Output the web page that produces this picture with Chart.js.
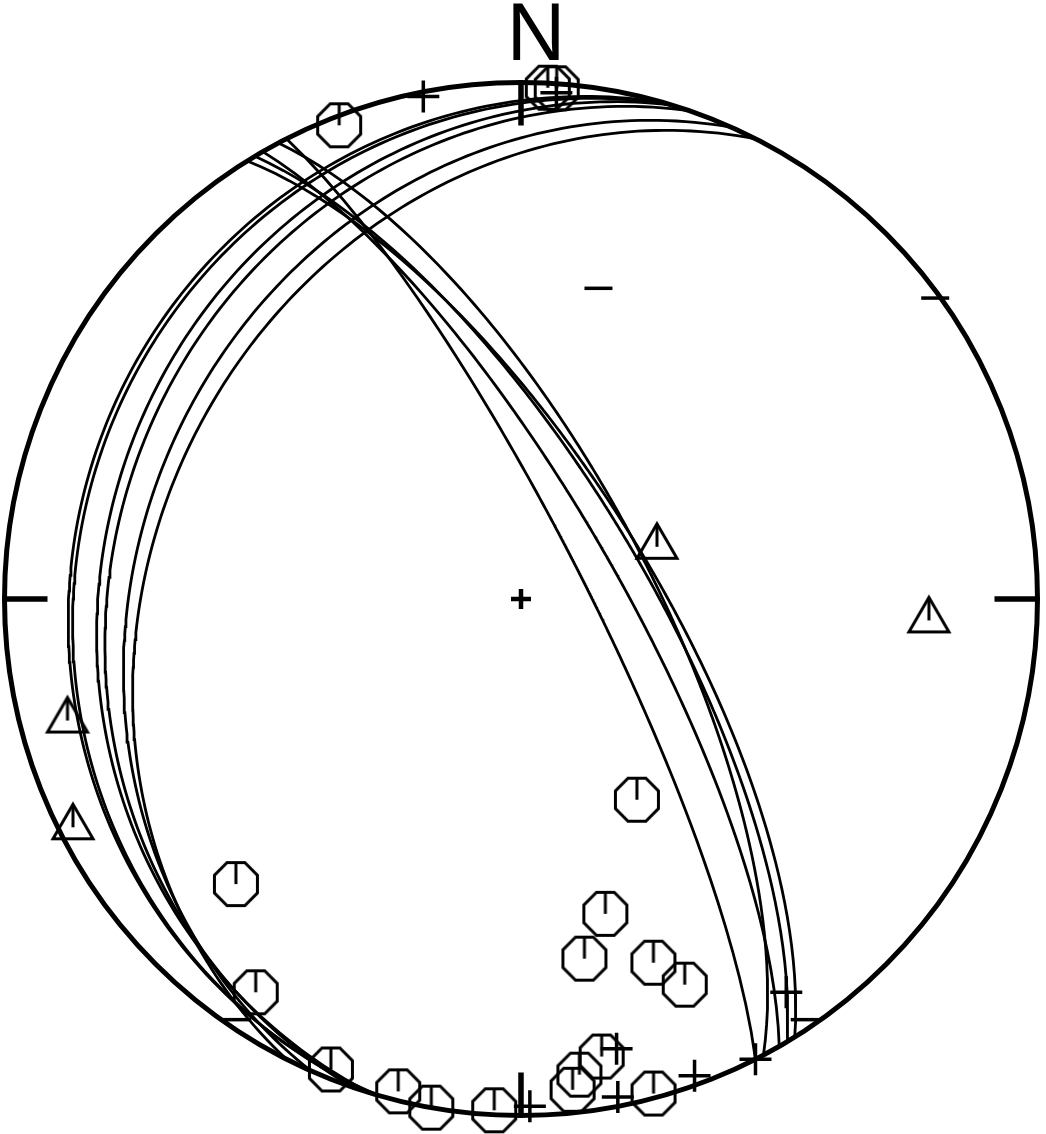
<!DOCTYPE html>
<html>
<head>
<meta charset="utf-8">
<title>Stereonet</title>
<script src="https://cdn.jsdelivr.net/npm/chart.js@4.4.1/dist/chart.umd.min.js"></script>
<style>
    html, body { margin: 0; padding: 0; background: #fff; }
    canvas { display: block; }
</style>
</head>
<body>
<canvas id="net" width="1046" height="1134" style="width:1046px;height:1134px"></canvas>
<script>
/* ============================================================
   Equal-area (Schmidt) net, lower hemisphere
   planes as great circles, lines as symbols
   ============================================================ */

// planes: dip direction / dip (degrees)
const planeDipDir = [63, 62, 60, 59, 58, 297, 294, 289, 287, 287, 286];
const planeDip    = [80, 70, 75, 71, 70, 30, 27, 22, 20, 15, 14];

// octagon symbols: trend / plunge
const octTrend  = [339, 3, 4, 150, 225, 165, 170, 160, 157, 214, 202, 194, 190, 183, 173, 174, 170, 165];
const octPlunge = [2, 1, 1, 53, 23, 37, 30, 26, 20, 9, 2, 2, 0, 1, 8, 5, 11, 1];

// triangle symbols
const triTrend  = [69, 93, 255, 243];
const triPlunge = [67, 22, 10, 3];

// "+" symbols
const plusTrend  = [349, 179, 168, 169, 160, 153, 146, 4];
const plusPlunge = [1, 2, 12, 2, 2, 0, 9, 2];

// "-" symbols
const minusTrend  = [14, 54, 214, 146];
const minusPlunge = [38, 1, 2, 2];

const RAD = Math.PI / 180;

function project(trend, plunge) {
    const r = Math.SQRT2 * Math.sin((90 - plunge) * RAD / 2);
    return { x: r * Math.sin(trend * RAD), y: r * Math.cos(trend * RAD) };
}

function greatCircle(dipDir, dip) {
    const pts = [];
    for (let b = -90; b <= 90; b += 1) {
        const plunge = Math.atan(Math.tan(dip * RAD) * Math.cos(b * RAD)) / RAD;
        pts.push(project(dipDir + b, plunge));
    }
    return pts;
}

function toPoints(trends, plunges) {
    return trends.map((t, i) => project(t, plunges[i]));
}

// symbol sprites
function octagonSprite() {
    const c = document.createElement("canvas");
    c.width = 54; c.height = 54;
    const g = c.getContext("2d");
    const a = 21.5, R = a / Math.cos(22.5 * RAD);
    g.strokeStyle = "#000";
    g.lineWidth = 3;
    g.lineJoin = "miter";
    g.beginPath();
    for (let k = 0; k < 8; k++) {
        const ang = (22.5 + 45 * k) * RAD;
        const px = 27 + R * Math.cos(ang), py = 27 + R * Math.sin(ang);
        if (k === 0) g.moveTo(px, py); else g.lineTo(px, py);
    }
    g.closePath();
    g.stroke();
    g.beginPath();
    g.moveTo(27, 27 - a);
    g.lineTo(27, 27);
    g.stroke();
    return c;
}

function triangleSprite() {
    const c = document.createElement("canvas");
    c.width = 54; c.height = 54;
    const g = c.getContext("2d");
    const side = 40, h = side * Math.sqrt(3) / 2;
    const cx = 27, cy = 27;
    g.strokeStyle = "#000";
    g.lineWidth = 3;
    g.beginPath();
    g.moveTo(cx, cy - 2 * h / 3);
    g.lineTo(cx + side / 2, cy + h / 3);
    g.lineTo(cx - side / 2, cy + h / 3);
    g.closePath();
    g.stroke();
    g.beginPath();
    g.moveTo(cx, cy - 2 * h / 3);
    g.lineTo(cx, cy);
    g.stroke();
    return c;
}

const netFrame = {
    id: "netFrame",
    afterDatasetsDraw(chart) {
        const { ctx, scales } = chart;
        const cx = scales.x.getPixelForValue(0);
        const cy = scales.y.getPixelForValue(0);
        const R = scales.x.getPixelForValue(1) - cx;
        const tick = 43;
        ctx.save();
        ctx.strokeStyle = "#000";
        ctx.lineWidth = 5;
        ctx.beginPath();
        ctx.arc(cx, cy, R, 0, Math.PI * 2);
        ctx.stroke();

        ctx.lineWidth = 5.5;
        ctx.beginPath();
        ctx.moveTo(cx, cy - R); ctx.lineTo(cx, cy - R + tick);
        ctx.moveTo(cx, cy + R); ctx.lineTo(cx, cy + R - tick);
        ctx.moveTo(cx - R, cy); ctx.lineTo(cx - R + tick, cy);
        ctx.moveTo(cx + R, cy); ctx.lineTo(cx + R - tick, cy);
        ctx.stroke();

        ctx.lineWidth = 4.5;
        ctx.beginPath();
        ctx.moveTo(cx - 10, cy); ctx.lineTo(cx + 10, cy);
        ctx.moveTo(cx, cy - 10); ctx.lineTo(cx, cy + 10);
        ctx.stroke();

        ctx.fillStyle = "#000";
        ctx.font = '81px "Liberation Sans", Arial, sans-serif';
        ctx.textAlign = "center";
        ctx.textBaseline = "alphabetic";
        ctx.fillText("N", cx + 15, cy - R - 23);
        ctx.restore();
    },
};

const datasets = planeDipDir.map((d, i) => ({
    data: greatCircle(d, planeDip[i]),
    showLine: true,
    borderColor: "#000",
    borderWidth: 2.8,
    pointRadius: 0,
    tension: 0,
    clip: false,
}));

const symbolBase = { pointBorderColor: "#000", pointBackgroundColor: "transparent", showLine: false, clip: false };

datasets.push({ ...symbolBase, data: toPoints(octTrend, octPlunge), pointStyle: octagonSprite(), pointRadius: 22 });
datasets.push({ ...symbolBase, data: toPoints(triTrend, triPlunge), pointStyle: triangleSprite(), pointRadius: 22 });
datasets.push({ ...symbolBase, data: toPoints(plusTrend, plusPlunge), pointStyle: "cross", pointRadius: 16, pointBorderWidth: 3.5 });
datasets.push({ ...symbolBase, data: toPoints(minusTrend, minusPlunge), pointStyle: "line", pointRadius: 14, pointBorderWidth: 3.5 });

new Chart(document.getElementById("net"), {
    type: "scatter",
    data: { datasets },
    options: {
        responsive: false,
        animation: false,
        devicePixelRatio: 1,
        layout: { autoPadding: false, padding: { left: 4.5, right: 8.5, top: 82.5, bottom: 18.5 } },
        plugins: { legend: { display: false }, tooltip: { enabled: false } },
        scales: {
            x: { type: "linear", min: -1, max: 1, display: false },
            y: { type: "linear", min: -1, max: 1, display: false },
        },
    },
    plugins: [netFrame],
});
</script>
</body>
</html>
